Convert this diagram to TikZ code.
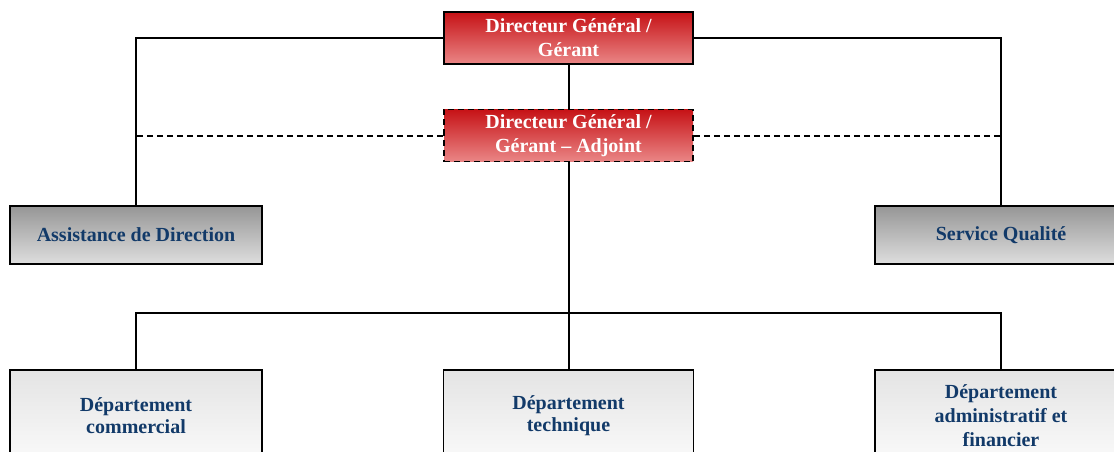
\documentclass[tikz,border=0pt]{standalone}
\usepackage{fontspec}
\setmainfont{Liberation Serif}
\definecolor{navytxt}{RGB}{18,58,105}
\definecolor{redtop}{RGB}{198,18,22}
\definecolor{redmid}{RGB}{222,95,98}
\definecolor{redbot}{RGB}{234,134,134}
\definecolor{graytop}{RGB}{150,150,150}
\definecolor{graybot}{RGB}{222,222,222}
\definecolor{lighttop}{RGB}{228,228,228}
\definecolor{lightbot}{RGB}{250,250,250}
\tikzset{
  box/.style={draw=black, line width=1.8pt, rectangle, align=center,
    font=\fontsize{20}{24}\selectfont\bfseries, inner sep=2pt},
  headbox/.style={box, top color=redtop, middle color=redmid, bottom color=redbot, text=white,
    minimum width=249pt, minimum height=52pt},
  staffbox/.style={box, top color=graytop, bottom color=graybot, text=navytxt,
    minimum width=252pt, minimum height=58pt},
  deptbox/.style={box, top color=lighttop, bottom color=lightbot, text=navytxt,
    minimum width=252pt, minimum height=92pt},
  link/.style={draw=black, line width=2pt},
  dottedlink/.style={draw=black, line width=2pt, dash pattern=on 6pt off 4pt}
}
\begin{document}
\begin{tikzpicture}[x=1pt,y=-1pt]
  \useasboundingbox (0,0) rectangle (1114,452);
  \clip (0,0) rectangle (1114,452);

  % management
  \node[headbox] (dg) at (568.5,38) {Directeur Général /\\Gérant};
  \node[headbox, dash pattern=on 6pt off 4pt] (dga) at (568.5,135.5) {Directeur Général /\\Gérant -- Adjoint};

  % staff functions
  \node[staffbox] (ad) at (136,235) {\raisebox{-2pt}{Assistance de Direction}};
  \node[staffbox] (sq) at (1001,235) {\raisebox{-2pt}{Service Qualité}};

  % departments
  \node[deptbox] (dc) at (136,416) {\raisebox{-2pt}{Département}\\commercial};
  \node[deptbox, minimum width=250pt] (dt) at (568.5,416) {\raisebox{-2pt}{Département}\\technique};
  \node[deptbox] (daf) at (1001,416) {Département\\administratif et\\financier};

  \coordinate (bus) at (568.5,313);

  % dotted links from the deputy
  \draw[dottedlink] (dga.west) -| (ad.north);
  \draw[dottedlink] (dga.east) -| (sq.north);

  % hierarchy
  \draw[link] (dg.west) -| (ad.north);
  \draw[link] (dg.east) -| (sq.north);
  \draw[link] (dg.south) -- (dga.north);
  \draw[link] (dga.south) -- (bus);
  \draw[link] (bus) -| (dc.north);
  \draw[link] (bus) -- (dt.north);
  \draw[link] (bus) -| (daf.north);
\end{tikzpicture}
\end{document}
